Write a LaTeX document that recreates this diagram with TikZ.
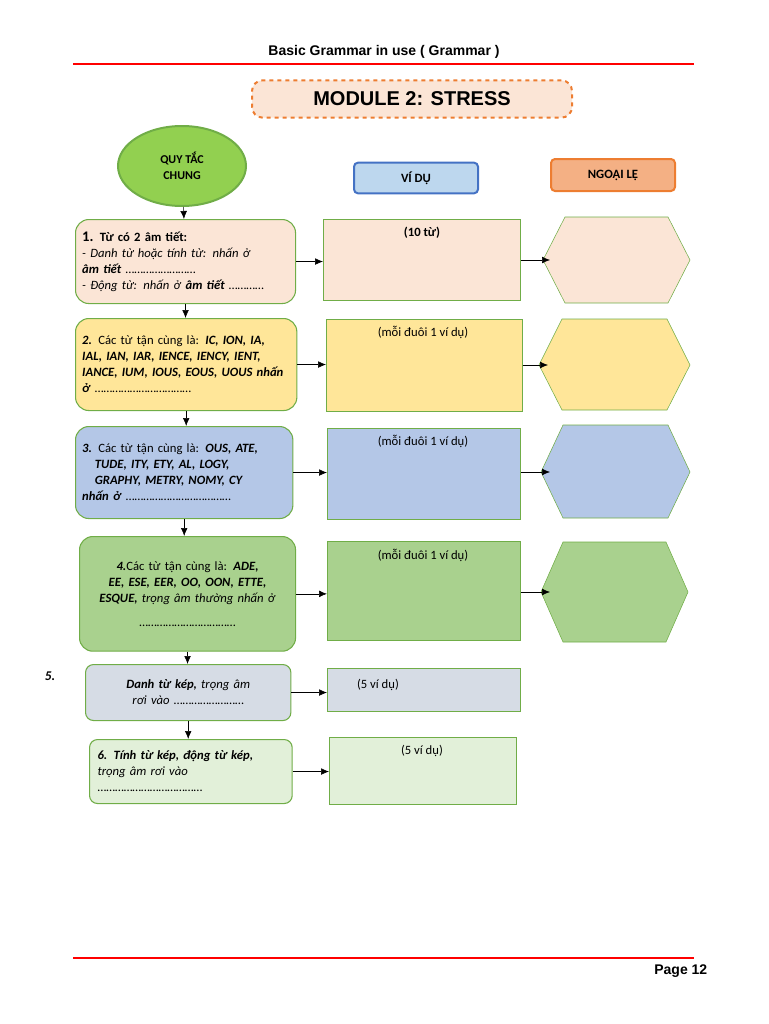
\documentclass[tikz,border=0pt]{standalone}
\usepackage{fontspec}
\setmainfont{Carlito}
\newfontfamily\hdfont{Liberation Sans}
\usetikzlibrary{arrows.meta,shapes.geometric}
\definecolor{peach}{RGB}{251,229,214}
\definecolor{yel}{RGB}{255,230,153}
\definecolor{blu}{RGB}{180,199,231}
\definecolor{grn}{RGB}{169,209,142}
\definecolor{gry}{RGB}{214,220,229}
\definecolor{lgrn}{RGB}{226,240,217}
\definecolor{lime}{RGB}{146,208,80}
\definecolor{edge}{RGB}{112,173,71}
\definecolor{org}{RGB}{237,125,49}
\tikzset{
  redline/.style={red,line width=2pt},
  rulebox/.style={draw=edge,thick,rounded corners=10pt,anchor=north west,inner sep=5pt,
    align=left,font=\fontsize{9.5}{12}\selectfont},
  ex/.style={draw=edge,anchor=north west,inner sep=0pt},
  hexa/.style={draw=edge},
  go/.style={-{Latex[length=6pt,width=5pt]},black}
}
\newcommand{\dt}{……………………}
\begin{document}
\begin{tikzpicture}[x=0.75pt,y=-0.75pt]
  \useasboundingbox (0,0) rectangle (768,1024);
  % header and footer
  \node[font=\hdfont\fontsize{10.5}{12}\selectfont\bfseries] (head) at (384,52) {Basic Grammar in use ( Grammar )};
  \draw[redline] (73,64) -- (694,64);
  \draw[redline] (73,958) -- (694,958);
  \node[font=\hdfont\fontsize{10.5}{12}\selectfont\bfseries,anchor=east] (page) at (712,971) {Page 12};
  % title
  \node[draw=org,fill=peach,dashed,line width=1.5pt,rounded corners=8pt,minimum width=240pt,minimum height=28pt,
    font=\hdfont\fontsize{15}{18}\selectfont\bfseries] (title) at (412,99) {MODULE 2: STRESS};
  % column heads
  \node[ellipse,draw=edge,fill=lime,line width=1.5pt,minimum width=96pt,minimum height=60pt,
    align=center,font=\fontsize{9}{12}\selectfont\bfseries] (rule0) at (182,166) {QUY TẮC\\CHUNG};
  \node[draw={rgb,255:red,68;green,114;blue,196},fill={rgb,255:red,189;green,215;blue,238},line width=1.5pt,rounded corners=3pt,
    minimum width=93pt,minimum height=23pt,font=\fontsize{9.5}{12}\selectfont\bfseries] (vidu) at (416,178) {VÍ DỤ};
  \node[draw=org,fill={rgb,255:red,244;green,176;blue,132},line width=1.5pt,rounded corners=3pt,
    minimum width=93pt,minimum height=24pt,font=\fontsize{9.5}{12}\selectfont\bfseries] (ngoaile) at (613,175) {NGOẠI LỆ};
  % steps
  \node[rulebox,fill=peach,minimum width=165pt,minimum height=63pt,text width=155pt] (s1) at (75,219)
    {{\fontsize{11}{12}\selectfont\textbf{1.}} \textbf{Từ có 2 âm tiết:}\\\textit{- Danh từ hoặc tính từ: nhấn ở}\\\textbf{\textit{âm tiết}} \dt\\\textit{- Động từ: nhấn ở} \textbf{\textit{âm tiết}} …………};
  \node[rulebox,fill=yel,minimum width=166pt,minimum height=69pt,text width=156pt] (s2) at (75,318)
    {\textbf{\textit{2.}} Các từ tận cùng là: \textbf{\textit{IC, ION, IA, IAL, IAN, IAR, IENCE, IENCY, IENT, IANCE, IUM, IOUS, EOUS, UOUS nhấn ở}} ……………………………};
  \node[rulebox,fill=blu,minimum width=163pt,minimum height=69pt,text width=153pt] (s3) at (75,426)
    {\textbf{\textit{3.}} Các từ tận cùng là: \textbf{\textit{OUS, ATE,}}\\\quad\textbf{\textit{TUDE, ITY, ETY, AL, LOGY,}}\\\quad\textbf{\textit{GRAPHY, METRY, NOMY, CY}}\\\textbf{\textit{nhấn ở}} ………………………………};
  \node[rulebox,fill=grn,minimum width=162pt,minimum height=86pt,text width=140pt,align=center] (s4) at (79,536)
    {\textbf{\textit{4.}}Các từ tận cùng là: \textbf{\textit{ADE, EE, ESE, EER, OO, OON, ETTE, ESQUE,}} \textit{trọng âm thường nhấn ở}\\[6pt]……………………………};
  \node[rulebox,fill=gry,rounded corners=6pt,minimum width=154pt,minimum height=42pt,text width=130pt,align=center] (s5) at (85,664)
    {\textbf{\textit{Danh từ kép,}} \textit{trọng âm rơi vào} \dt};
  \node[rulebox,fill=lgrn,rounded corners=6pt,minimum width=152pt,minimum height=48pt,text width=140pt] (s6) at (89,739)
    {\textbf{\textit{6. Tính từ kép, động từ kép,}}\\\textit{trọng âm rơi vào}\\………………………………};
  \node[font=\fontsize{10}{12}\selectfont\bfseries\itshape] (five) at (50,676) {5.};
  % examples
  \node[ex,fill=peach,minimum width=148pt,minimum height=61pt] (e1) at (323,219) {};
  \node[ex,fill=yel,minimum width=147pt,minimum height=69pt] (e2) at (326,319) {};
  \node[ex,fill=blu,minimum width=145pt,minimum height=68pt] (e3) at (327,428) {};
  \node[ex,fill=grn,minimum width=145pt,minimum height=74pt] (e4) at (327,541) {};
  \node[ex,fill=gry,minimum width=145pt,minimum height=32pt] (e5) at (327,668) {};
  \node[ex,fill=lgrn,minimum width=140pt,minimum height=50pt] (e6) at (329,737) {};
  \node[font=\fontsize{9.5}{12}\selectfont\bfseries] (l1) at (422,233) {(10 từ)};
  \node[font=\fontsize{9.5}{12}\selectfont] (l2) at (423,332) {(mỗi đuôi 1 ví dụ)};
  \node[font=\fontsize{9.5}{12}\selectfont] (l3) at (423,441) {(mỗi đuôi 1 ví dụ)};
  \node[font=\fontsize{9.5}{12}\selectfont] (l4) at (423,555) {(mỗi đuôi 1 ví dụ)};
  \node[font=\fontsize{9.5}{12}\selectfont] (l5) at (378,685) {(5 ví dụ)};
  \node[font=\fontsize{9.5}{12}\selectfont] (l6) at (422,751) {(5 ví dụ)};
  % exceptions
  \filldraw[hexa,fill=peach] (543,260) -- (565,217) -- (668,217) -- (690,260) -- (668,303) -- (565,303) -- cycle;
  \filldraw[hexa,fill=yel] (539,365) -- (562,319) -- (667,319) -- (690,365) -- (667,410) -- (562,410) -- cycle;
  \filldraw[hexa,fill=blu] (541,472) -- (563,425) -- (668,425) -- (690,472) -- (668,518) -- (563,518) -- cycle;
  \filldraw[hexa,fill=grn] (541,592) -- (563,542) -- (666,542) -- (688,592) -- (666,642) -- (563,642) -- cycle;
  \coordinate (x1) at (550,260);
  \coordinate (x2) at (548,365);
  \coordinate (x3) at (550,472);
  \coordinate (x4) at (550,592);
  % connectors
  \draw[go] (rule0) -- (s1);
  \foreach \a/\b in {s1/s2,s2/s3,s3/s4,s4/s5,s5/s6} \draw[go] (\a.south) -- (\a.south |- \b.north);
  \foreach \a/\b in {s1/e1,s2/e2,s3/e3,s4/e4,s5/e5,s6/e6} \draw[go] (\a.east) -- (\b.west |- \a.east);
  \foreach \a/\b in {e1/x1,e2/x2,e3/x3,e4/x4} \draw[go] (\a.east |- \b) -- (\b);
\end{tikzpicture}
\end{document}
